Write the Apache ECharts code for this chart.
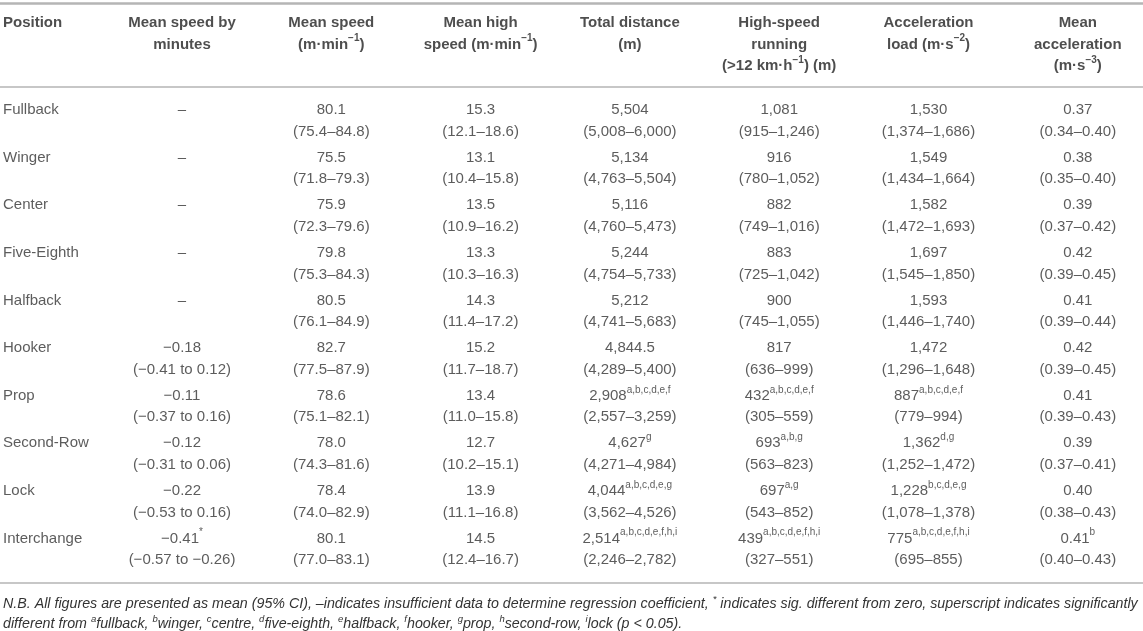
<!DOCTYPE html>
<html>
<head>
<meta charset="utf-8">
<title>Position table</title>
<script src="https://cdn.jsdelivr.net/npm/echarts@6/dist/echarts.min.js"></script>
<style>
    html, body { margin: 0; padding: 0; background: #fff; }
    #main { width: 1143px; height: 631px; }
</style>
</head>
<body>
<div id="main"></div>
<script>
// 行：位置
var positions = ['Fullback', 'Winger', 'Center', 'Five-Eighth', 'Halfback', 'Hooker', 'Prop', 'Second-Row', 'Lock', 'Interchange'];

// 表头（^...^ 为上标）
var positionHeader = 'Position';
var headers = [
    'Mean speed by\nminutes',
    'Mean speed\n(m·min^−1^)',
    'Mean high\nspeed (m·min^−1^)',
    'Total distance\n(m)',
    'High-speed\nrunning\n(>12 km·h^−1^) (m)',
    'Acceleration\nload (m·s^−2^)',
    'Mean\nacceleration\n(m·s^−3^)'
];

// Mean speed by minutes
var msbm = [null, null, null, null, null, -0.18, -0.11, -0.12, -0.22, -0.41];
var msbmLo = [null, null, null, null, null, -0.41, -0.37, -0.31, -0.53, -0.57];
var msbmHi = [null, null, null, null, null, 0.12, 0.16, 0.06, 0.16, -0.26];
var msbmSup = ['', '', '', '', '', '', '', '', '', '*'];

// Mean speed
var meanSpeed = [80.1, 75.5, 75.9, 79.8, 80.5, 82.7, 78.6, 78.0, 78.4, 80.1];
var meanSpeedLo = [75.4, 71.8, 72.3, 75.3, 76.1, 77.5, 75.1, 74.3, 74.0, 77.0];
var meanSpeedHi = [84.8, 79.3, 79.6, 84.3, 84.9, 87.9, 82.1, 81.6, 82.9, 83.1];

// Mean high speed
var highSpeed = [15.3, 13.1, 13.5, 13.3, 14.3, 15.2, 13.4, 12.7, 13.9, 14.5];
var highSpeedLo = [12.1, 10.4, 10.9, 10.3, 11.4, 11.7, 11.0, 10.2, 11.1, 12.4];
var highSpeedHi = [18.6, 15.8, 16.2, 16.3, 17.2, 18.7, 15.8, 15.1, 16.8, 16.7];

// Total distance
var distance = [5504, 5134, 5116, 5244, 5212, 4844.5, 2908, 4627, 4044, 2514];
var distanceLo = [5008, 4763, 4760, 4754, 4741, 4289, 2557, 4271, 3562, 2246];
var distanceHi = [6000, 5504, 5473, 5733, 5683, 5400, 3259, 4984, 4526, 2782];
var distanceSup = ['', '', '', '', '', '', 'a,b,c,d,e,f', 'g', 'a,b,c,d,e,g', 'a,b,c,d,e,f,h,i'];

// High-speed running
var hsr = [1081, 916, 882, 883, 900, 817, 432, 693, 697, 439];
var hsrLo = [915, 780, 749, 725, 745, 636, 305, 563, 543, 327];
var hsrHi = [1246, 1052, 1016, 1042, 1055, 999, 559, 823, 852, 551];
var hsrSup = ['', '', '', '', '', '', 'a,b,c,d,e,f', 'a,b,g', 'a,g', 'a,b,c,d,e,f,h,i'];

// Acceleration load
var accLoad = [1530, 1549, 1582, 1697, 1593, 1472, 887, 1362, 1228, 775];
var accLoadLo = [1374, 1434, 1472, 1545, 1446, 1296, 779, 1252, 1078, 695];
var accLoadHi = [1686, 1664, 1693, 1850, 1740, 1648, 994, 1472, 1378, 855];
var accLoadSup = ['', '', '', '', '', '', 'a,b,c,d,e,f', 'd,g', 'b,c,d,e,g', 'a,b,c,d,e,f,h,i'];

// Mean acceleration
var meanAcc = [0.37, 0.38, 0.39, 0.42, 0.41, 0.42, 0.41, 0.39, 0.40, 0.41];
var meanAccLo = [0.34, 0.35, 0.37, 0.39, 0.39, 0.39, 0.39, 0.37, 0.38, 0.40];
var meanAccHi = [0.40, 0.40, 0.42, 0.45, 0.44, 0.45, 0.43, 0.41, 0.43, 0.43];
var meanAccSup = ['', '', '', '', '', '', '', '', '', 'b'];

// 脚注
var footnote = [
    'N.B. All figures are presented as mean (95% CI), –indicates insufficient data to determine regression coefficient, ^*^ indicates sig. different from zero, superscript indicates significantly',
    'different from ^a^fullback, ^b^winger, ^c^centre, ^d^five-eighth, ^e^halfback, ^f^hooker, ^g^prop, ^h^second-row, ^i^lock (p < 0.05).'
];

// 版式
var W = 1143, H = 631;
var colStep = 149.3, firstColPx = 182;
var rowStep = 47.6, firstRowPx = 120.9;
var xMin = 1 - firstColPx / colStep, xMax = xMin + W / colStep;
var yMin = -2.5, yMax = 9.75;
var gridTop = firstRowPx - (0 - yMin) * rowStep;
var gridBottom = H - gridTop - (yMax - yMin) * rowStep;
var headerY = yMin + (12 - gridTop) / rowStep;
var leftX = xMin + 3 / colStep;
var rules = [yMin + (3 - gridTop) / rowStep, -0.5 - 10 / rowStep, 9.5 + 10 / rowStep];

var textColor = '#333';
var fontFamily = '"Liberation Sans", Arial, sans-serif';

function fmt(v, dec) {
    var s = dec == null ? v.toLocaleString('en-US', {maximumFractionDigits: 1}) : v.toFixed(dec);
    return s.replace('-', '−');
}

// ^x^ -> rich 标记
function richLine(line, base, sup) {
    return line.split('^').map(function (t, k) {
        return t ? '{' + (k % 2 ? sup : base) + '|' + t + '}' : '';
    }).join('');
}

var columns = [
    {v: msbm, lo: msbmLo, hi: msbmHi, sup: msbmSup, dec: 2, sep: ' to '},
    {v: meanSpeed, lo: meanSpeedLo, hi: meanSpeedHi, dec: 1, sep: '–'},
    {v: highSpeed, lo: highSpeedLo, hi: highSpeedHi, dec: 1, sep: '–'},
    {v: distance, lo: distanceLo, hi: distanceHi, sup: distanceSup, sep: '–'},
    {v: hsr, lo: hsrLo, hi: hsrHi, sup: hsrSup, sep: '–'},
    {v: accLoad, lo: accLoadLo, hi: accLoadHi, sup: accLoadSup, sep: '–'},
    {v: meanAcc, lo: meanAccLo, hi: meanAccHi, sup: meanAccSup, dec: 2, sep: '–'}
];

function cellText(col, i) {
    var c = columns[col];
    if (c.v[i] == null) return '{v|–}\n{v| }';
    var sup = c.sup && c.sup[i] ? '{s|' + c.sup[i] + '}' : '';
    return '{v|' + fmt(c.v[i], c.dec) + '}' + sup + '\n{v|(' + fmt(c.lo[i], c.dec) + c.sep + fmt(c.hi[i], c.dec) + ')}';
}

var cellRich = {
    v: {fontSize: 15, lineHeight: 21.7, color: textColor, fontFamily: fontFamily},
    s: {fontSize: 10, lineHeight: 15, verticalAlign: 'top', color: textColor, fontFamily: fontFamily}
};
var headRich = {
    h: {fontSize: 15, lineHeight: 21.7, fontWeight: 'bold', color: '#222', fontFamily: fontFamily},
    hs: {fontSize: 10, lineHeight: 15, fontWeight: 'bold', verticalAlign: 'top', color: '#222', fontFamily: fontFamily}
};

var series = [];

// 数据单元格
columns.forEach(function (c, j) {
    series.push({
        type: 'scatter',
        symbolSize: 0,
        silent: true,
        data: positions.map(function (p, i) { return [j + 1, i]; }),
        label: {
            show: true, position: 'inside', align: 'center', verticalAlign: 'middle',
            formatter: function (p) { return cellText(j, p.dataIndex); },
            rich: cellRich
        }
    });
});

// 位置列
series.push({
    type: 'scatter',
    symbolSize: 0,
    silent: true,
    data: positions.map(function (p, i) { return [leftX, i]; }),
    label: {
        show: true, position: 'inside', align: 'left', verticalAlign: 'middle',
        formatter: function (p) { return '{v|' + positions[p.dataIndex] + '}\n{v| }'; },
        rich: cellRich
    }
});

// 表头
series.push({
    type: 'scatter',
    symbolSize: 0,
    silent: true,
    data: headers.map(function (h, j) { return [j + 1, headerY]; }),
    label: {
        show: true, position: 'inside', align: 'center', verticalAlign: 'top',
        formatter: function (p) {
            return headers[p.dataIndex].split('\n').map(function (l) { return richLine(l, 'h', 'hs'); }).join('\n');
        },
        rich: headRich
    }
});
series.push({
    type: 'scatter',
    symbolSize: 0,
    silent: true,
    data: [[leftX, headerY]],
    label: {
        show: true, position: 'inside', align: 'left', verticalAlign: 'top',
        formatter: function () { return '{h|' + positionHeader + '}'; },
        rich: headRich
    },
    // 横线
    markLine: {
        silent: true,
        symbol: 'none',
        label: {show: false},
        lineStyle: {color: '#b5b5b5', width: 1.5, type: 'solid'},
        data: [
            {yAxis: rules[0], lineStyle: {width: 2.5}},
            {yAxis: rules[1]},
            {yAxis: rules[2]}
        ]
    }
});

var myChart = echarts.init(document.getElementById('main'));
var option = {
    animation: false,
    backgroundColor: '#fff',
    title: {
        left: 3,
        top: 594,
        padding: 0,
        text: footnote.map(function (l) { return richLine(l, 'f', 'fs'); }).join('\n'),
        textStyle: {
            fontWeight: 'normal',
            rich: {
                f: {fontSize: 14.25, lineHeight: 20, fontStyle: 'italic', color: textColor, fontFamily: fontFamily},
                fs: {fontSize: 9.5, lineHeight: 14, fontStyle: 'italic', verticalAlign: 'top', color: textColor, fontFamily: fontFamily}
            }
        }
    },
    grid: {left: 0, right: 0, top: gridTop, bottom: gridBottom},
    xAxis: {type: 'value', min: xMin, max: xMax, show: false},
    yAxis: {type: 'value', inverse: true, min: yMin, max: yMax, show: false},
    series: series
};
myChart.setOption(option);
</script>
</body>
</html>
